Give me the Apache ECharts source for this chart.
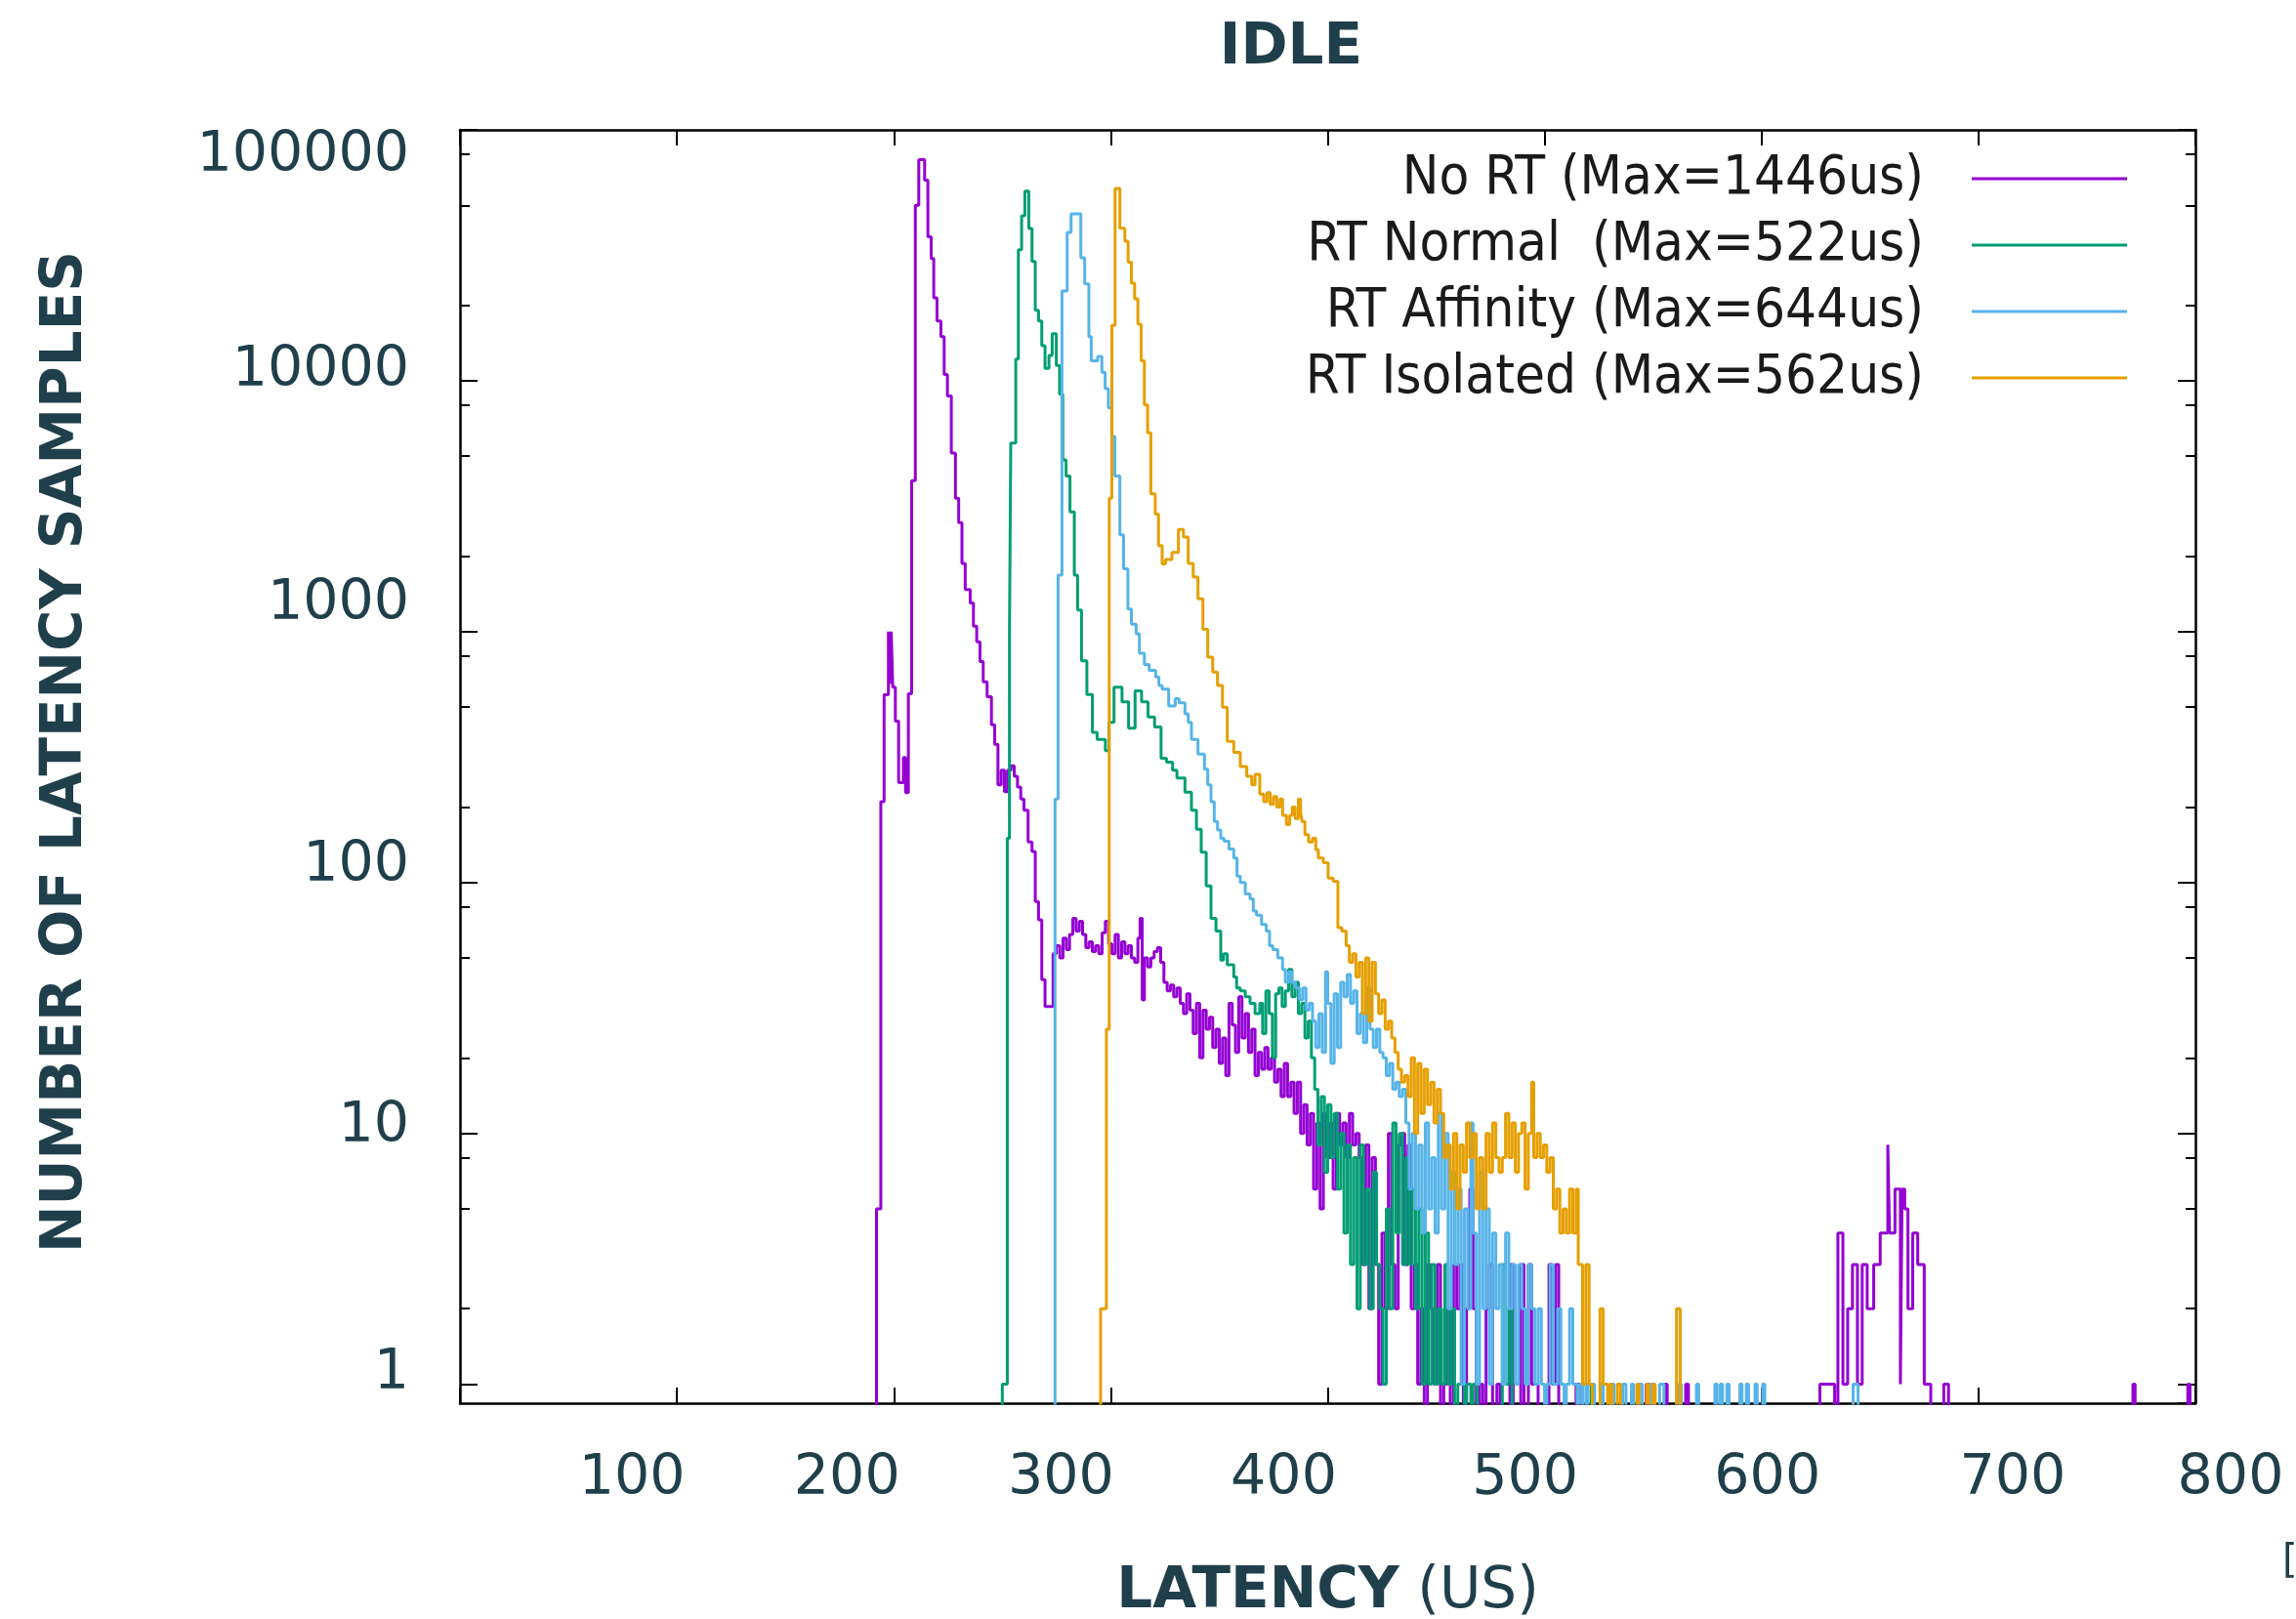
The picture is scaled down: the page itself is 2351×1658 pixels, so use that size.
<!DOCTYPE html>
<html>
<head>
<meta charset="utf-8">
<title>IDLE</title>
<script src="https://cdn.jsdelivr.net/npm/echarts@6/dist/echarts.min.js"></script>
<style>
  html, body { margin: 0; padding: 0; background: #fff; }
  #main { width: 2351px; height: 1658px; }
</style>
</head>
<body>
<div id="main"></div>
<script>
// histogram bins as [latency start (us), samples]; a bin holds until the next point
var noRt = [
  [0,0],[192,5],[194,210],[195.5,560],[197.5,1000],[198.3,620],[198.8,1000],[199.5,600],[200.7,440],[202.2,250],
  [204.4,315],[205.4,228],[206.7,565],[208.2,4000],[209.9,50000],[211.5,76000],[214.2,63000],[215.7,37500],[217.2,30700],[218.4,21400],
  [219.9,17300],[221.7,15000],[223.2,10600],[224.7,8700],[226.5,5150],[228.4,3400],[229.9,2720],[231.4,1870],[232.9,1470],[235.2,1300],
  [236.7,1050],[238.2,910],[239.7,760],[241.2,630],[243,550],[245,425],[246.5,355],[248,245],[249.5,280],[251,230],
  [252.4,280],[254,292],[255.5,265],[257,240],[258.5,215],[260,194],[261.9,145],[263.7,133],[265.2,84],[266.7,71],
  [268.2,41],[269.7,32],[273.4,52],[274.9,56],[276.5,50],[278,60],[279.5,54],[281,62],[282.5,72],[284,64],
  [285.5,70],[287,62],[288.5,55],[290,58],[291.5,53],[293,56],[294.5,52],[296,63],[297.5,70],[299,57],
  [300.5,52],[302,62],[303.5,50],[305,58],[306.5,52],[308,56],[309.5,50],[311,48],[312.5,60],[313.5,72],
  [314.5,34],[315.5,50],[317,46],[318.5,50],[320,53],[321.5,55],[323,48],[324.5,40],[326,37],[327.5,39],
  [329,35],[330.5,38],[332,33],[333.5,30],[335,36],[336.5,31],[338,25],[339.5,33],[341,20],[342.5,31],
  [344,26],[345.5,29],[347,22],[348.5,26],[350,19],[351.5,24],[353,17],[354.5,33],[356,27],[357.5,21],
  [359,35],[360.5,24],[362,30],[363.5,21],[365,26],[366.5,17],[368,21],[369.5,18],[371,22],[372.5,18],
  [374,20],[375.5,16],[377,18],[378.5,14],[380,19],[381.5,14],[383,16],[384.5,12],[386,16],[387.5,10],
  [389,13],[390.5,9],[392,12],[393.5,6],[395,11],[396.5,5],[398,12],[399.5,8],[401,11],[402.5,6],
  [404,12],[405.5,9],[407,11],[408.5,8],[410,12],[411.5,9],[413,10],[414.5,8],[416,3],[417.5,9],
  [419,2],[420.5,8],[422,3],[423.5,1],[425,4],[426.5,2],[428,10],[429.5,3],[431,2],[432.5,9],
  [434,10],[435.5,3],[437,9],[438.5,2],[440,3],[441.5,1],[443,2],[444.5,0],[446,3],[447.5,2],
  [449,1],[450.5,3],[452,0],[453.5,1],[455,2],[456.5,0],[458,3],[459.5,2],[461,3],[462.5,0],
  [464,2],[465.5,6],[467,2],[468.5,0],[470,1],[471.5,0],[473,2],[474.5,3],[476,0],[478,1],
  [479.5,0],[484,3],[485.5,0],[489,3],[490.5,0],[492.5,3],[494,1],[497,0],[502,3],[503.5,1],
  [505,3],[506.5,0],[514.5,1],[516,0],[546.8,1],[548.3,0],[555.5,1],[556.5,0],[565,1],[566.3,0],
  [626.9,1],[633.7,0],[635.2,4],[637.5,1],[639.7,2],[641.9,3],[644.2,1],[646.4,3],[648.7,2],[651.7,3],
  [654.7,4],[658.2,9],[659,4],[661.5,6],[664,1],[664.8,6],[666,5],[667.5,2],[669.7,4],[672,3],
  [675,1],[678,0],[684,1],[686.2,0],[771.2,1],[772.2,0],[796.5,1],[797.5,0],[800,0]
];
var rtNormal = [
  [0,0],[250,1],[252.3,150],[253.3,980],[253.9,5640],[256.2,12200],[257.4,33300],[258.9,45400],[260.4,57000],[262.2,40400],
  [263.7,29900],[265.2,19100],[266.7,17300],[268.2,13800],[269.7,11200],[271.5,12600],[273,15400],[274.9,11500],[276.4,8840],[277.9,4840],
  [279.4,4170],[281.2,3000],[283.2,1680],[284.7,1220],[286.5,764],[289,561],[291.5,397],[293.7,372],[297.5,335],[299.2,435],
  [301.5,600],[305.2,525],[308.2,412],[311.2,580],[314.2,525],[317.2,457],[320.2,417],[323.2,313],[325.7,302],[328.5,280],
  [330.5,261],[334.2,229],[337.2,194],[339.5,163],[341.7,132],[344,97],[346.2,72],[348.5,64],[350.7,49],[352,52],
  [353.7,47],[356.7,42],[358,38],[359.7,37],[362,35],[364.2,33],[366.5,30],[368.7,33],[370,25],[371.5,37],
  [373,30],[374.5,20],[376,36],[377.5,38],[379,32],[380.5,37],[382,45],[383.5,35],[385,40],[386.5,30],
  [388,33],[389.5,24],[391,28],[392.5,20],[394,15],[395.5,9],[397,14],[398.5,7],[400,13],[401.5,8],
  [403,12],[404.5,6],[406,10],[407.5,4],[409,9],[410.5,3],[412,8],[413.5,2],[415,9],[416.5,3],
  [418,6],[419.5,2],[421,7],[422.5,3],[424,2],[425.5,1],[427,5],[428.5,2],[430,11],[431.5,4],
  [433,10],[434.5,3],[436,8],[437.5,3],[439,6],[440.5,2],[442,5],[443.5,1],[445,4],[446.5,1],
  [448,3],[449.5,1],[451,2],[452.5,1],[454,3],[455.5,1],[457,2],[458.5,0],[460,1],[463,0],
  [464,1],[466,0],[467,1],[469,0],[480.5,3],[482,1],[483.5,2],[485,0],[521.5,1],[522.5,0],
  [800,0]
];
var rtAffinity = [
  [0,0],[274.3,215],[275.7,1680],[277.5,22800],[279.9,39000],[281.7,46300],[286.2,30900],[288,24300],[289.9,15000],[291,12000],
  [294,12500],[295.9,10800],[297.4,9300],[298.9,7800],[300.4,6000],[301.9,4170],[304.2,2430],[305.9,1780],[307.9,1230],[309.5,1070],
  [311.7,980],[313.2,820],[315.5,740],[317.7,700],[320.7,660],[322.2,610],[323.7,590],[326.7,505],[329.7,540],[331.5,520],
  [334.2,470],[335.7,435],[337.2,372],[340.2,325],[343.2,283],[344.7,245],[346.2,210],[347.7,175],[349.2,162],[350.7,150],
  [352.2,146],[354.5,136],[356.7,125],[358.2,106],[359.7,100],[362,90],[364.2,86],[365.7,77],[367.2,74],[369.5,68],
  [371.7,64],[373.2,56],[374.7,54],[377,50],[379.2,45],[380.5,40],[382,44],[383.5,40],[385.2,38],[387,34],
  [388.5,38],[390,31],[391.5,33],[393,28],[394.5,22],[396,30],[397.5,21],[399,44],[400,33],[401.5,19],
  [403,36],[404.5,22],[406,40],[407.5,35],[409,43],[410.5,33],[412,37],[413.5,25],[415,30],[416.5,23],
  [418,38],[419.5,26],[421,22],[422.5,26],[424,21],[425.5,20],[427,17],[428.5,19],[430,15],[431.5,16],
  [433,14],[434.5,15],[436,11],[437.5,6],[439,10],[440.5,5],[442,9],[443.5,4],[445,11],[446.5,5],
  [448,8],[449.5,4],[451,12],[452.5,5],[454,10],[455.5,2],[457,7],[458.5,3],[460,6],[461.5,1],
  [463,5],[464.5,2],[466,11],[467,4],[468.5,1],[470,7],[471.5,2],[473,5],[474.5,1],[476,4],
  [477.5,2],[479,3],[480.5,1],[482,4],[483.5,2],[485,3],[486.5,1],[488,3],[489.5,2],[491,1],
  [492.5,3],[494,2],[495.5,1],[497,2],[498.5,1],[500,0],[501,1],[502.5,3],[504,1],[506,2],
  [507.5,1],[509,0],[510,1],[511.5,2],[513,1],[515,0],[516,1],[517.5,0],[519,1],[520,0],
  [522,1],[523,0],[526,1],[527,0],[531,1],[532,0],[536,1],[537.5,0],[540,1],[541,0],
  [543.5,1],[545,0],[549,1],[550.5,0],[553,1],[555,0],[562,1],[563,0],[570,1],[571,0],
  [578.5,1],[579.5,0],[581,1],[582,0],[584,1],[585,0],[590,1],[591,0],[593,1],[594,0],
  [597,1],[598,0],[600.5,1],[601.5,0],[642.2,1],[644.5,0],[800,0]
];
var rtIsolated = [
  [0,0],[295.3,2],[298,26],[299.3,3400],[300.5,16600],[302,58400],[304.2,40500],[306.5,36000],[308,29700],[309.5,24500],
  [311,21200],[312.5,16800],[314,12000],[315.5,8000],[317,6200],[318.5,3540],[320.5,2940],[322,2200],[323.7,1860],[325.2,1940],
  [328.2,2070],[331.2,2550],[333.5,2380],[335.7,1870],[338,1650],[340.2,1350],[342.5,1020],[344.7,790],[347,690],[349.2,610],
  [351.5,500],[353.7,365],[356.7,330],[359.7,290],[362.7,265],[365,245],[366.5,270],[368.7,225],[370.5,210],[372,228],
  [373.5,205],[375,220],[376.5,200],[378,215],[379.2,185],[381,170],[382.5,185],[383.7,200],[385,180],[386.5,215],
  [387.5,190],[388.2,175],[389.5,155],[391.2,145],[393,150],[394.5,135],[395.7,125],[398,120],[400.2,104],[402.5,101],
  [404.7,66],[406.5,64],[408.5,56],[410,48],[411.5,52],[413,42],[414.5,48],[416,30],[417.5,50],[419,28],
  [420.5,48],[422,36],[423.5,30],[425,34],[426.5,26],[428,28],[429.5,24],[431,21],[432.5,18],[434,16],
  [435.5,17],[437,14],[438.5,20],[440,10],[441.5,19],[443,12],[444.5,18],[446,13],[447.5,16],[449,11],
  [450.5,15],[452,12],[453.5,8],[455,9],[456.5,6],[458,10],[459.5,5],[461,9],[462.5,7],[464,11],
  [465.5,8],[467,10],[468.5,5],[470,8],[471.5,5],[473,10],[474.5,7],[476,11],[477.5,8],[479,7],
  [480.5,8],[482,12],[483.5,8],[485,11],[486.5,7],[488,10],[489.5,11],[491,6],[492.5,10],[494,16],
  [495,8],[496.5,10],[498,8],[499.5,9],[501,7],[502.5,8],[504,5],[505.5,6],[507,4],[508.5,5],
  [510,4],[511.5,6],[513,4],[514.5,6],[515.5,3],[517.5,1],[519,3],[520.5,1],[522,0],[525.5,2],
  [527,1],[529,0],[530,1],[531,0],[533.5,1],[535,0],[542.5,1],[543.5,0],[547,1],[548,0],
  [550,1],[551,0],[560.8,2],[562.5,0],[800,0]
];

var seriesNames = ['No RT (Max=1446us)', 'RT Normal  (Max=522us)', 'RT Affinity (Max=644us)', 'RT Isolated (Max=562us)'];
var seriesColors = ['#9400d3', '#009e73', '#56b4e9', '#e69f00'];
var minorTicks = [2, 5, 8, 20, 50, 80, 200, 500, 800, 2000, 5000, 8000, 20000, 50000, 80000];

var TEXT = '#1f3f4b';
var Y_MIN = 0.84, Y_MAX = 100000;
var FLOOR = 0.5; // empty bins fall under the axis floor and get clipped

// the tick labels in the original sit a little off their ticks; nudge them the same way (px)
var xLabelNudge = { 100: -46, 200: -48, 300: -51, 400: -45, 500: -20, 600: 6, 700: 35, 800: 36 };
var yLabelNudge = { 1: -10, 10: -6, 100: -17, 1000: -28, 10000: -10, 100000: 27 };

function toData(pairs) {
  return pairs.map(function (p) { return [p[0], p[1] > 0 ? p[1] : FLOOR]; });
}

var labelFont = { fontFamily: 'DejaVu Sans', fontSize: 57, color: TEXT };

function nudgeRich(map, horizontal) {
  var rich = {};
  Object.keys(map).forEach(function (k) {
    var s = map[k], pad = [0, 0, 0, 0];
    if (horizontal) { if (s < 0) pad[1] = -2 * s; else pad[3] = 2 * s; }
    else { if (s < 0) pad[2] = -2 * s; else pad[0] = 2 * s; }
    rich['n' + k] = Object.assign({ padding: pad }, labelFont);
  });
  return rich;
}

var chart = echarts.init(document.getElementById('main'));

var frame = { show: true, onZero: false, lineStyle: { color: '#000', width: 2.5 } };
var tickStyle = { color: '#000', width: 2 };

function minorAxis(pos) {
  return {
    type: 'value', position: pos, offset: 0,
    min: Math.log10(Y_MIN), max: Math.log10(Y_MAX),
    axisLine: { show: false, onZero: false }, axisLabel: { show: false }, splitLine: { show: false },
    axisTick: { show: true, inside: true, length: 10, lineStyle: tickStyle,
      customValues: minorTicks.map(function (v) { return Math.log10(v); }) }
  };
}

var option = {
  animation: false,
  backgroundColor: '#fff',
  title: {
    text: 'IDLE', left: 1317, top: 16, textAlign: 'center',
    textStyle: { fontFamily: 'DejaVu Sans', fontWeight: 'bold', fontSize: 58, color: TEXT }
  },
  grid: { left: 471, right: 103, top: 133, bottom: 221, containLabel: false, outerBoundsMode: 'none' },
  legend: {
    orient: 'vertical', align: 'right', right: 173, top: 155, padding: 0,
    icon: 'rect', itemWidth: 159, itemHeight: 3, itemGap: 12,
    data: seriesNames,
    textStyle: { fontFamily: 'DejaVu Sans Condensed', fontSize: 56, lineHeight: 56, color: '#1a1a1a', padding: [0, 44, 0, 0] }
  },
  xAxis: [{
    type: 'value', position: 'bottom', min: 0, max: 800, interval: 100,
    name: '{b|LATENCY}{r| (US)}', nameLocation: 'middle', nameGap: 165,
    nameTextStyle: { rich: {
      b: { fontFamily: 'DejaVu Sans', fontWeight: 'bold', fontSize: 58, color: TEXT },
      r: { fontFamily: 'DejaVu Sans', fontSize: 58, color: TEXT }
    } },
    axisLine: frame,
    axisTick: { inside: true, length: 16, lineStyle: tickStyle },
    axisLabel: Object.assign({ margin: 50, rich: nudgeRich(xLabelNudge, true),
      formatter: function (v) { return v === 0 ? '' : '{n' + v + '|' + v + '}'; } }, labelFont),
    splitLine: { show: false }
  }, {
    type: 'value', position: 'top', min: 0, max: 800, interval: 100,
    axisLine: frame,
    axisTick: { inside: true, length: 16, lineStyle: tickStyle },
    axisLabel: { show: false }, splitLine: { show: false }
  }],
  yAxis: [{
    type: 'log', logBase: 10, position: 'left', min: Y_MIN, max: Y_MAX,
    name: 'NUMBER OF LATENCY SAMPLES', nameLocation: 'middle', nameGap: 374,
    nameTextStyle: { fontFamily: 'DejaVu Sans', fontWeight: 'bold', fontSize: 58, color: TEXT, padding: [0, 0, 0, 30] },
    axisLine: frame,
    axisTick: { inside: true, length: 18, lineStyle: tickStyle },
    axisLabel: Object.assign({ margin: 52, showMinLabel: false, rich: nudgeRich(yLabelNudge, false),
      formatter: function (v) {
        if (v < 1) return '';
        var r = Math.round(v);
        return '{n' + r + '|' + r + '}';
      } }, labelFont),
    splitLine: { show: false }
  }, {
    type: 'log', logBase: 10, position: 'right', min: Y_MIN, max: Y_MAX,
    axisLine: frame,
    axisTick: { inside: true, length: 18, lineStyle: tickStyle },
    axisLabel: { show: false }, splitLine: { show: false }
  }, minorAxis('left'), minorAxis('right')],
  graphic: [{
    type: 'text', left: 2337, top: 1580,
    style: { text: '[1]', fontFamily: 'DejaVu Sans', fontSize: 40, fill: TEXT }
  }],
  series: [noRt, rtNormal, rtAffinity, rtIsolated].map(function (d, i) {
    return {
      name: seriesNames[i], type: 'line', step: 'end',
      xAxisIndex: 0, yAxisIndex: 0,
      symbol: 'none', clip: true,
      lineStyle: { width: 3, color: seriesColors[i] },
      itemStyle: { color: seriesColors[i] },
      data: toData(d)
    };
  })
};

chart.setOption(option);
</script>
</body>
</html>
